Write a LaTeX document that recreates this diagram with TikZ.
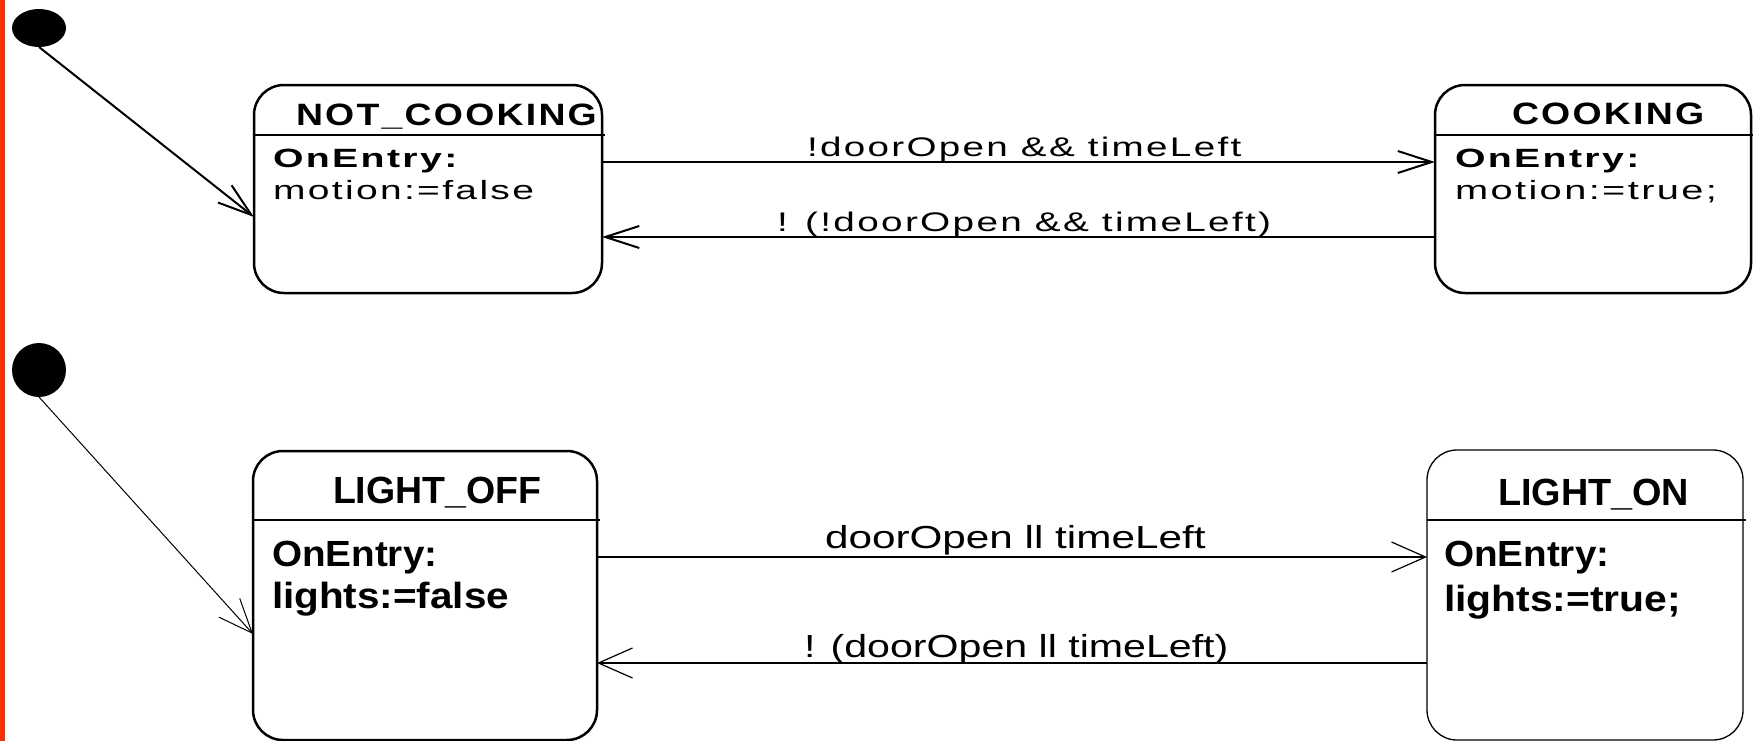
\documentclass[tikz,border=0pt]{standalone}
\usepackage{fontspec}
\usepackage{graphicx}
\setmainfont{Liberation Sans}
\newfontfamily\spacedfont[LetterSpace=6]{Liberation Sans}
\usetikzlibrary{arrows.meta,shapes.geometric,calc}

\definecolor{edgebar}{RGB}{255,45,0}

% set a text and stretch it horizontally to a given width (in pt)
\newsavebox\fitbox
\newlength\fitlen
\newcommand\fitw[2]{\sbox\fitbox{#2}\setlength\fitlen{\wd\fitbox}%
  \pgfmathsetmacro\fitsx{#1/\fitlen}\scalebox{\fitsx}[1]{\usebox\fitbox}}

% fonts
\newcommand\ftitleA{\spacedfont\bfseries\fontsize{31}{31}\selectfont}
\newcommand\fbodyAb{\spacedfont\bfseries\fontsize{26.5}{27}\selectfont}
\newcommand\fbodyA{\spacedfont\fontsize{26.5}{27}\selectfont}
\newcommand\flabelA{\spacedfont\fontsize{27}{27}\selectfont}
\newcommand\ftitleB{\bfseries\fontsize{38}{38}\selectfont}
\newcommand\fbodyB{\bfseries\fontsize{36.5}{37}\selectfont}
\newcommand\flabelB{\fontsize{32}{32}\selectfont}

\tikzset{
  state/.style={draw, rounded corners=30bp, inner sep=0pt, outer sep=0pt, anchor=north west},
  initdot/.style={fill=black, draw=none, inner sep=0pt, outer sep=0pt},
  txt/.style={anchor=base west, inner sep=0pt, outer sep=0pt},
  ttrans/.style={line width=2bp, -{Straight Barb[length=34bp,width=22bp]}},
  btrans/.style={line width=1.2bp, -{Straight Barb[length=34bp,width=30bp]}},
}

\begin{document}
\begin{tikzpicture}[x=1bp,y=-1bp]
\useasboundingbox (0,0) rectangle (1753,741);
\fill[edgebar] (0,0) rectangle (5,741);

% ---------- motion statechart ----------
\node[initdot, ellipse, minimum width=54bp, minimum height=38bp] (i1) at (39,28) {};
\node[state, line width=2.5bp, minimum width=348bp, minimum height=208bp] (nc) at (254,85) {};
\node[state, line width=2.5bp, minimum width=316bp, minimum height=208bp] (ck) at (1435,85) {};

\coordinate (hA) at (0,134.5);
\draw[line width=2bp] (nc.west |- hA) -- ($(nc.east |- hA)+(3,0)$);
\draw[line width=2bp] (ck.west |- hA) -- ($(ck.east |- hA)+(3,0)$);

\node[txt] (nct) at (296,125) {\fitw{302}{\ftitleA NOT\_COOKING}};
\node[txt] (nce) at (273,167) {\fitw{185}{\fbodyAb OnEntry:}};
\node[txt] (ncm) at (273,199) {\fitw{262}{\fbodyA motion:=false}};

\node[txt] (ckt) at (1512,124) {\fitw{193}{\ftitleA COOKING}};
\node[txt] (cke) at (1455,167) {\fitw{185}{\fbodyAb OnEntry:}};
\node[txt] (ckm) at (1455,199) {\fitw{263}{\fbodyA motion:=true;}};

\coordinate (eA) at (0,217);
\draw[line width=2bp, -{Straight Barb[length=34bp,width=22bp]}] (i1.south) -- (nc.west |- eA);

\coordinate (yA1) at (0,162);
\coordinate (yA2) at (0,237);
\draw[ttrans] (nc.east |- yA1) -- (ck.west |- yA1);
\draw[ttrans] (ck.west |- yA2) -- (nc.east |- yA2);
\node[txt] (la1) at (807,156) {\fitw{436}{\flabelA !doorOpen \&\& timeLeft}};
\node[txt] (la2) at (777,231) {\fitw{496}{\flabelA ! (!doorOpen \&\& timeLeft)}};

% ---------- light statechart ----------
\node[initdot, circle, minimum size=54bp] (i2) at (39,370) {};
\node[state, line width=2.5bp, minimum width=344bp, minimum height=289bp] (lo) at (253,451) {};
\node[state, line width=1.3bp, minimum width=316bp, minimum height=290bp] (ln) at (1427,450) {};

\coordinate (hB) at (0,520);
\draw[line width=1.2bp] (lo.west |- hB) -- ($(lo.east |- hB)+(3,0)$);
\draw[line width=1.2bp] (ln.west |- hB) -- ($(ln.east |- hB)+(3,0)$);

\node[txt] (lot) at (333,503) {\fitw{209}{\ftitleB LIGHT\_OFF}};
\node[txt] (loe) at (272,566) {\fitw{166}{\fbodyB OnEntry:}};
\node[txt] (lol) at (272,608) {\fitw{238}{\fbodyB lights:=false}};

\node[txt] (lnt) at (1498,505) {\fitw{192}{\ftitleB LIGHT\_ON}};
\node[txt] (lne) at (1444,566) {\fitw{166}{\fbodyB OnEntry:}};
\node[txt] (lnl) at (1444,611) {\fitw{238}{\fbodyB lights:=true;}};

\coordinate (eB) at (0,634);
\draw[line width=1bp, -{Straight Barb[length=34bp,width=28bp]}] (i2.south) -- (lo.west |- eB);

\coordinate (yB1) at (0,557);
\coordinate (yB2) at (0,663);
\draw[btrans] (lo.east |- yB1) -- (ln.west |- yB1);
\draw[btrans] (ln.west |- yB2) -- (lo.east |- yB2);
\node[txt] (lb1) at (825,548) {\fitw{382}{\flabelB doorOpen ll timeLeft}};
\node[txt] (lb2) at (804,657) {\fitw{426}{\flabelB ! (doorOpen ll timeLeft)}};
\end{tikzpicture}
\end{document}
